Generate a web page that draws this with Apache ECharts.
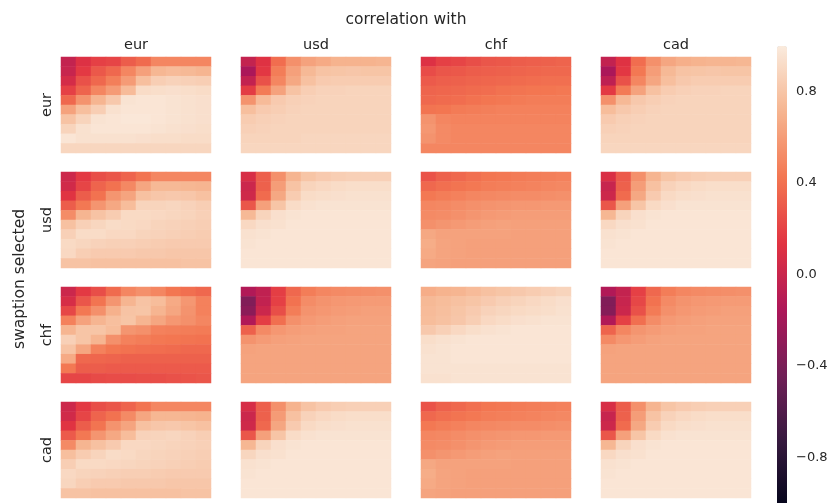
<!DOCTYPE html>
<html>
<head>
<meta charset="utf-8">
<script src="https://cdn.jsdelivr.net/npm/echarts@6/dist/echarts.min.js"></script>
<style>html,body{margin:0;padding:0;background:#fff}#c{width:838px;height:503px}</style>
</head>
<body>
<div id="c"></div>
<script>
// ---- categories ----
var currencies = ['eur', 'usd', 'chf', 'cad'];
var colorbarTicks = [-0.8, -0.4, 0.0, 0.4, 0.8];
var valueMin = -1, valueMax = 1;

// ---- values (row = swaption selected, column = correlation with); each 10x10, top row first ----
var eur_eur = [
 [-0.02,0.12,0.20,0.22,0.32,0.38,0.50,0.50,0.50,0.50],
 [0.00,0.17,0.30,0.37,0.50,0.62,0.73,0.75,0.74,0.72],
 [0.07,0.27,0.37,0.47,0.60,0.77,0.85,0.87,0.86,0.85],
 [0.20,0.35,0.50,0.60,0.75,0.92,0.93,0.94,0.93,0.92],
 [0.37,0.56,0.72,0.82,0.96,0.97,0.97,0.96,0.95,0.94],
 [0.63,0.77,0.85,0.95,0.97,0.97,0.97,0.96,0.95,0.94],
 [0.79,0.88,0.96,0.97,0.98,0.98,0.97,0.96,0.95,0.94],
 [0.88,0.95,0.97,0.97,0.97,0.97,0.96,0.95,0.94,0.93],
 [0.97,0.95,0.95,0.95,0.95,0.94,0.93,0.93,0.92,0.92],
 [0.89,0.89,0.89,0.89,0.89,0.89,0.89,0.89,0.89,0.89]
];
var eur_usd = [
 [-0.02,0.13,0.39,0.55,0.63,0.67,0.71,0.71,0.71,0.72],
 [-0.15,0.16,0.46,0.62,0.74,0.79,0.80,0.81,0.80,0.80],
 [-0.03,0.27,0.50,0.66,0.78,0.83,0.84,0.84,0.84,0.84],
 [0.18,0.45,0.63,0.79,0.85,0.87,0.87,0.88,0.88,0.88],
 [0.56,0.75,0.83,0.86,0.87,0.88,0.88,0.88,0.88,0.88],
 [0.77,0.83,0.85,0.87,0.88,0.88,0.88,0.88,0.88,0.88],
 [0.84,0.86,0.87,0.88,0.88,0.88,0.88,0.88,0.88,0.88],
 [0.86,0.87,0.88,0.88,0.88,0.88,0.88,0.88,0.88,0.88],
 [0.88,0.88,0.88,0.88,0.89,0.89,0.89,0.89,0.89,0.89],
 [0.89,0.89,0.89,0.89,0.89,0.89,0.89,0.89,0.89,0.89]
];
var eur_chf = [
 [0.12,0.20,0.22,0.26,0.29,0.30,0.32,0.33,0.34,0.35],
 [0.25,0.29,0.30,0.32,0.33,0.34,0.35,0.36,0.37,0.37],
 [0.31,0.33,0.34,0.35,0.36,0.37,0.38,0.39,0.40,0.40],
 [0.35,0.36,0.37,0.38,0.39,0.41,0.42,0.43,0.43,0.44],
 [0.37,0.38,0.39,0.41,0.43,0.44,0.45,0.46,0.46,0.46],
 [0.42,0.43,0.45,0.46,0.47,0.48,0.48,0.48,0.48,0.48],
 [0.56,0.50,0.49,0.49,0.49,0.49,0.49,0.49,0.49,0.49],
 [0.58,0.52,0.50,0.50,0.50,0.50,0.50,0.50,0.50,0.50],
 [0.56,0.52,0.50,0.50,0.50,0.50,0.50,0.50,0.50,0.50],
 [0.50,0.50,0.50,0.50,0.50,0.50,0.50,0.50,0.50,0.50]
];
var eur_cad = [
 [-0.03,0.13,0.39,0.55,0.65,0.69,0.71,0.72,0.72,0.73],
 [-0.15,0.16,0.44,0.61,0.74,0.79,0.80,0.81,0.80,0.80],
 [-0.05,0.27,0.50,0.65,0.77,0.82,0.84,0.84,0.84,0.84],
 [0.17,0.45,0.63,0.78,0.84,0.86,0.87,0.87,0.88,0.88],
 [0.55,0.74,0.82,0.85,0.87,0.88,0.88,0.88,0.88,0.88],
 [0.76,0.82,0.85,0.87,0.88,0.88,0.88,0.88,0.88,0.88],
 [0.83,0.86,0.87,0.88,0.88,0.88,0.88,0.88,0.88,0.88],
 [0.86,0.87,0.88,0.88,0.88,0.88,0.88,0.88,0.88,0.88],
 [0.88,0.88,0.88,0.88,0.88,0.88,0.88,0.88,0.88,0.88],
 [0.89,0.89,0.89,0.89,0.89,0.89,0.89,0.89,0.89,0.89]
];
var usd_eur = [
 [0.03,0.17,0.26,0.29,0.35,0.42,0.50,0.50,0.50,0.50],
 [0.05,0.22,0.35,0.41,0.51,0.65,0.74,0.74,0.73,0.72],
 [0.14,0.32,0.41,0.57,0.64,0.78,0.81,0.82,0.81,0.78],
 [0.32,0.44,0.57,0.66,0.76,0.88,0.88,0.89,0.87,0.85],
 [0.53,0.72,0.79,0.84,0.91,0.91,0.90,0.89,0.88,0.86],
 [0.78,0.86,0.89,0.92,0.91,0.90,0.88,0.87,0.86,0.85],
 [0.86,0.92,0.92,0.90,0.90,0.88,0.87,0.86,0.85,0.84],
 [0.91,0.89,0.87,0.86,0.86,0.85,0.84,0.83,0.83,0.83],
 [0.90,0.85,0.83,0.83,0.83,0.82,0.82,0.81,0.81,0.81],
 [0.79,0.79,0.78,0.78,0.78,0.78,0.78,0.78,0.79,0.79]
];
var usd_usd = [
 [0.09,0.33,0.55,0.72,0.80,0.83,0.85,0.86,0.86,0.86],
 [0.02,0.34,0.61,0.79,0.88,0.90,0.92,0.93,0.93,0.93],
 [0.04,0.38,0.66,0.84,0.92,0.93,0.94,0.95,0.95,0.95],
 [0.29,0.62,0.80,0.92,0.95,0.96,0.96,0.96,0.96,0.96],
 [0.74,0.88,0.94,0.96,0.97,0.97,0.97,0.97,0.97,0.97],
 [0.90,0.94,0.95,0.97,0.97,0.97,0.97,0.97,0.97,0.97],
 [0.95,0.96,0.97,0.97,0.97,0.97,0.97,0.97,0.97,0.97],
 [0.96,0.97,0.97,0.97,0.97,0.97,0.97,0.97,0.97,0.97],
 [0.97,0.97,0.97,0.97,0.97,0.97,0.97,0.97,0.97,0.97],
 [0.97,0.97,0.97,0.97,0.97,0.97,0.97,0.97,0.97,0.97]
];
var usd_chf = [
 [0.28,0.34,0.37,0.40,0.43,0.44,0.45,0.46,0.47,0.48],
 [0.37,0.40,0.42,0.44,0.46,0.47,0.48,0.49,0.50,0.51],
 [0.44,0.46,0.48,0.50,0.51,0.52,0.53,0.53,0.54,0.55],
 [0.50,0.51,0.53,0.55,0.56,0.57,0.58,0.58,0.59,0.59],
 [0.52,0.53,0.55,0.57,0.59,0.60,0.61,0.61,0.61,0.61],
 [0.55,0.57,0.59,0.61,0.62,0.63,0.62,0.62,0.62,0.62],
 [0.66,0.63,0.63,0.63,0.63,0.63,0.62,0.62,0.62,0.62],
 [0.68,0.64,0.63,0.62,0.62,0.62,0.62,0.62,0.62,0.62],
 [0.67,0.64,0.63,0.62,0.62,0.62,0.62,0.62,0.62,0.62],
 [0.64,0.63,0.62,0.62,0.62,0.62,0.62,0.62,0.62,0.62]
];
var usd_cad = [
 [0.10,0.31,0.55,0.72,0.80,0.83,0.85,0.86,0.86,0.86],
 [0.00,0.34,0.61,0.78,0.87,0.90,0.92,0.93,0.93,0.93],
 [0.03,0.38,0.66,0.83,0.91,0.93,0.94,0.95,0.95,0.95],
 [0.29,0.62,0.80,0.91,0.94,0.96,0.96,0.96,0.96,0.96],
 [0.73,0.88,0.94,0.96,0.97,0.97,0.97,0.97,0.97,0.97],
 [0.90,0.94,0.95,0.97,0.97,0.97,0.97,0.97,0.97,0.97],
 [0.95,0.96,0.97,0.97,0.97,0.97,0.97,0.97,0.97,0.97],
 [0.96,0.97,0.97,0.97,0.97,0.97,0.97,0.97,0.97,0.97],
 [0.97,0.97,0.97,0.97,0.97,0.97,0.97,0.97,0.97,0.97],
 [0.97,0.97,0.97,0.97,0.97,0.97,0.97,0.97,0.97,0.97]
];
var chf_eur = [
 [0.02,0.17,0.26,0.38,0.50,0.55,0.50,0.43,0.40,0.37],
 [0.08,0.29,0.42,0.57,0.72,0.79,0.76,0.67,0.58,0.48],
 [0.23,0.44,0.55,0.70,0.79,0.80,0.72,0.65,0.56,0.48],
 [0.48,0.63,0.72,0.77,0.80,0.72,0.65,0.58,0.55,0.50],
 [0.72,0.80,0.80,0.76,0.57,0.55,0.48,0.47,0.46,0.45],
 [0.86,0.80,0.72,0.55,0.48,0.46,0.44,0.43,0.42,0.41],
 [0.79,0.65,0.48,0.43,0.41,0.40,0.39,0.38,0.37,0.37],
 [0.67,0.37,0.36,0.35,0.34,0.34,0.34,0.34,0.34,0.34],
 [0.44,0.32,0.32,0.31,0.31,0.31,0.31,0.31,0.31,0.31],
 [0.22,0.22,0.24,0.25,0.25,0.26,0.26,0.27,0.28,0.29]
];
var chf_usd = [
 [-0.12,-0.04,0.19,0.37,0.46,0.50,0.52,0.53,0.54,0.55],
 [-0.35,-0.03,0.20,0.41,0.53,0.56,0.58,0.59,0.60,0.60],
 [-0.30,0.02,0.26,0.46,0.56,0.58,0.60,0.61,0.62,0.62],
 [-0.12,0.19,0.40,0.55,0.59,0.61,0.62,0.63,0.63,0.63],
 [0.34,0.52,0.58,0.61,0.62,0.63,0.63,0.64,0.64,0.64],
 [0.56,0.60,0.62,0.63,0.64,0.64,0.64,0.64,0.64,0.64],
 [0.63,0.64,0.64,0.64,0.64,0.64,0.64,0.64,0.64,0.64],
 [0.64,0.64,0.64,0.64,0.64,0.64,0.64,0.64,0.64,0.64],
 [0.64,0.64,0.64,0.64,0.64,0.64,0.64,0.64,0.64,0.64],
 [0.64,0.64,0.64,0.64,0.64,0.64,0.64,0.64,0.64,0.64]
];
var chf_chf = [
 [0.68,0.71,0.72,0.75,0.78,0.80,0.82,0.84,0.86,0.88],
 [0.74,0.76,0.78,0.80,0.83,0.86,0.88,0.90,0.92,0.94],
 [0.75,0.77,0.80,0.83,0.87,0.89,0.91,0.92,0.93,0.95],
 [0.76,0.78,0.81,0.85,0.90,0.92,0.94,0.95,0.96,0.96],
 [0.82,0.86,0.90,0.93,0.95,0.96,0.97,0.97,0.97,0.97],
 [0.93,0.95,0.96,0.97,0.97,0.97,0.97,0.97,0.97,0.97],
 [0.95,0.96,0.97,0.97,0.97,0.97,0.97,0.97,0.97,0.97],
 [0.96,0.96,0.97,0.97,0.97,0.97,0.97,0.97,0.97,0.97],
 [0.96,0.96,0.96,0.96,0.96,0.96,0.96,0.96,0.96,0.96],
 [0.95,0.95,0.96,0.96,0.96,0.96,0.96,0.96,0.96,0.96]
];
var chf_cad = [
 [-0.12,-0.02,0.20,0.37,0.46,0.50,0.52,0.53,0.54,0.55],
 [-0.35,0.00,0.23,0.41,0.52,0.56,0.58,0.59,0.60,0.60],
 [-0.33,0.02,0.27,0.45,0.55,0.58,0.60,0.61,0.62,0.62],
 [-0.12,0.20,0.40,0.53,0.59,0.61,0.62,0.63,0.63,0.63],
 [0.35,0.50,0.57,0.60,0.62,0.63,0.63,0.64,0.64,0.64],
 [0.52,0.58,0.61,0.63,0.64,0.64,0.64,0.64,0.64,0.64],
 [0.63,0.64,0.64,0.64,0.64,0.64,0.64,0.64,0.64,0.64],
 [0.64,0.64,0.64,0.64,0.64,0.64,0.64,0.64,0.64,0.64],
 [0.64,0.64,0.64,0.64,0.64,0.64,0.64,0.64,0.64,0.64],
 [0.64,0.64,0.64,0.64,0.64,0.64,0.64,0.64,0.64,0.64]
];
var cad_eur = [
 [0.03,0.17,0.26,0.29,0.35,0.42,0.50,0.50,0.50,0.50],
 [0.05,0.22,0.35,0.41,0.52,0.65,0.73,0.73,0.72,0.71],
 [0.14,0.32,0.42,0.56,0.64,0.78,0.81,0.82,0.80,0.78],
 [0.31,0.44,0.57,0.66,0.76,0.87,0.88,0.89,0.87,0.85],
 [0.52,0.72,0.78,0.83,0.90,0.90,0.89,0.88,0.87,0.86],
 [0.77,0.84,0.88,0.92,0.91,0.89,0.88,0.87,0.86,0.85],
 [0.85,0.91,0.91,0.90,0.89,0.88,0.87,0.86,0.85,0.84],
 [0.90,0.88,0.87,0.86,0.85,0.85,0.84,0.83,0.83,0.83],
 [0.89,0.85,0.83,0.83,0.82,0.82,0.82,0.81,0.81,0.81],
 [0.79,0.79,0.78,0.78,0.78,0.78,0.78,0.78,0.79,0.79]
];
var cad_usd = [
 [0.08,0.33,0.55,0.71,0.79,0.83,0.85,0.86,0.86,0.86],
 [0.02,0.34,0.60,0.78,0.87,0.90,0.92,0.93,0.93,0.93],
 [0.04,0.37,0.65,0.83,0.91,0.93,0.94,0.95,0.95,0.95],
 [0.29,0.62,0.80,0.92,0.95,0.96,0.96,0.96,0.96,0.96],
 [0.73,0.88,0.94,0.96,0.97,0.97,0.97,0.97,0.97,0.97],
 [0.89,0.94,0.95,0.97,0.97,0.97,0.97,0.97,0.97,0.97],
 [0.95,0.96,0.97,0.97,0.97,0.97,0.97,0.97,0.97,0.97],
 [0.96,0.97,0.97,0.97,0.97,0.97,0.97,0.97,0.97,0.97],
 [0.97,0.97,0.97,0.97,0.97,0.97,0.97,0.97,0.97,0.97],
 [0.97,0.97,0.97,0.97,0.97,0.97,0.97,0.97,0.97,0.97]
];
var cad_chf = [
 [0.28,0.34,0.37,0.40,0.43,0.44,0.45,0.46,0.47,0.48],
 [0.37,0.40,0.42,0.44,0.46,0.47,0.48,0.49,0.50,0.51],
 [0.44,0.46,0.48,0.50,0.51,0.52,0.53,0.53,0.54,0.55],
 [0.50,0.51,0.53,0.55,0.56,0.57,0.58,0.58,0.59,0.59],
 [0.52,0.53,0.55,0.57,0.59,0.60,0.61,0.61,0.61,0.61],
 [0.55,0.57,0.59,0.61,0.62,0.63,0.62,0.62,0.62,0.62],
 [0.66,0.63,0.63,0.63,0.63,0.63,0.62,0.62,0.62,0.62],
 [0.68,0.64,0.63,0.62,0.62,0.62,0.62,0.62,0.62,0.62],
 [0.67,0.64,0.63,0.62,0.62,0.62,0.62,0.62,0.62,0.62],
 [0.64,0.63,0.62,0.62,0.62,0.62,0.62,0.62,0.62,0.62]
];
var cad_cad = [
 [0.09,0.32,0.55,0.72,0.80,0.83,0.85,0.86,0.86,0.86],
 [0.00,0.34,0.61,0.79,0.87,0.90,0.92,0.93,0.93,0.93],
 [0.03,0.38,0.66,0.84,0.91,0.93,0.94,0.95,0.95,0.95],
 [0.29,0.62,0.80,0.91,0.95,0.96,0.96,0.96,0.96,0.96],
 [0.73,0.88,0.94,0.96,0.97,0.97,0.97,0.97,0.97,0.97],
 [0.90,0.94,0.95,0.97,0.97,0.97,0.97,0.97,0.97,0.97],
 [0.95,0.96,0.97,0.97,0.97,0.97,0.97,0.97,0.97,0.97],
 [0.96,0.97,0.97,0.97,0.97,0.97,0.97,0.97,0.97,0.97],
 [0.97,0.97,0.97,0.97,0.97,0.97,0.97,0.97,0.97,0.97],
 [0.97,0.97,0.97,0.97,0.97,0.97,0.97,0.97,0.97,0.97]
];

var panels = [
  [eur_eur, eur_usd, eur_chf, eur_cad],
  [usd_eur, usd_usd, usd_chf, usd_cad],
  [chf_eur, chf_usd, chf_chf, chf_cad],
  [cad_eur, cad_usd, cad_chf, cad_cad]
];

// ---- layout / style ----
var FONT = 'DejaVu Sans';
var TXT = '#262626';
var G_LEFT = 61, G_TOP = 57, G_W = 150, G_H = 96, DX = 180, DY = 115;
var rocket = ['#03051a', '#35193e', '#701f57', '#ad1759', '#e13342', '#f37651', '#f6b48f', '#faebdd'];

var idx10 = [0,1,2,3,4,5,6,7,8,9];
var grid = [], xAxis = [], yAxis = [], series = [], graphic = [];
var k = 0;
for (var r = 0; r < 4; r++) {
  for (var c = 0; c < 4; c++) {
    grid.push({left: G_LEFT + DX * c, top: G_TOP + DY * r, width: G_W, height: G_H});
    xAxis.push({type: 'category', gridIndex: k, data: idx10, show: false});
    yAxis.push({type: 'category', gridIndex: k, data: idx10, inverse: true, show: false});
    var m = panels[r][c], d = [];
    for (var i = 0; i < m.length; i++) for (var j = 0; j < m[i].length; j++) d.push([j, i, m[i][j]]);
    series.push({type: 'heatmap', xAxisIndex: k, yAxisIndex: k, data: d, silent: true,
      itemStyle: {borderWidth: 0}, emphasis: {disabled: true}, progressive: 0});
    k++;
  }
}
// colorbar axis grid
var CB_LEFT = 777, CB_TOP = 46, CB_W = 10, CB_H = 462;
grid.push({left: CB_LEFT, top: CB_TOP, width: CB_W, height: CB_H});
xAxis.push({type: 'value', gridIndex: k, show: false});
yAxis.push({type: 'value', gridIndex: k, min: valueMin, max: valueMax, position: 'right',
  splitLine: {show: false}, axisLine: {show: false},
  axisTick: {show: true, length: 4, lineStyle: {color: TXT, width: 1}, customValues: colorbarTicks},
  axisLabel: {show: true, margin: 9, color: TXT, fontFamily: FONT, fontSize: 13,
    customValues: colorbarTicks,
    formatter: function (v) { return (v < 0 ? '\u2212' : '') + Math.abs(v).toFixed(1); }}
});

// texts
graphic.push({type: 'text', x: 406, y: 20, style: {text: 'correlation with', fontFamily: FONT, fontSize: 15.5, fill: TXT, align: 'center', verticalAlign: 'middle'}});
graphic.push({type: 'text', x: 20, y: 279, rotation: Math.PI / 2, style: {text: 'swaption selected', fontFamily: FONT, fontSize: 15.5, fill: TXT, align: 'center', verticalAlign: 'middle'}});
for (var c2 = 0; c2 < 4; c2++) {
  graphic.push({type: 'text', x: G_LEFT + DX * c2 + G_W / 2, y: 45, style: {text: currencies[c2], fontFamily: FONT, fontSize: 14.5, fill: TXT, align: 'center', verticalAlign: 'middle'}});
}
for (var r2 = 0; r2 < 4; r2++) {
  graphic.push({type: 'text', x: 47, y: G_TOP + DY * r2 + G_H / 2, rotation: Math.PI / 2, style: {text: currencies[r2], fontFamily: FONT, fontSize: 14.5, fill: TXT, align: 'center', verticalAlign: 'middle'}});
}

var chart = echarts.init(document.getElementById('c'), null, {renderer: 'canvas'});
chart.setOption({
  animation: false,
  backgroundColor: '#ffffff',
  grid: grid, xAxis: xAxis, yAxis: yAxis, series: series,
  visualMap: {
    type: 'continuous', min: valueMin, max: valueMax, calculable: false,
    seriesIndex: series.map(function (s, i) { return i; }),
    inRange: {color: rocket},
    orient: 'vertical', left: CB_LEFT, top: CB_TOP, itemWidth: CB_W, itemHeight: CB_H,
    padding: 0, text: null, showLabel: false, hoverLink: false, realtime: false
  },
  graphic: graphic
});
</script>
</body>
</html>
